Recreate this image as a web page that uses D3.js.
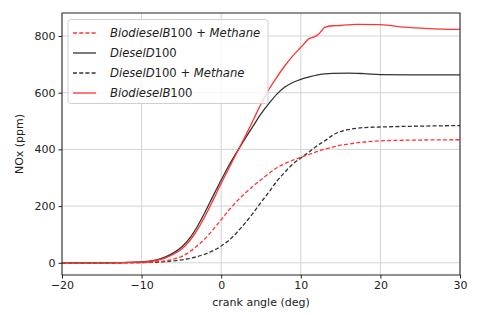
<!DOCTYPE html>
<html>
<head>
<meta charset="utf-8">
<script src="https://cdn.jsdelivr.net/npm/d3@7"></script>
<style>
  body { margin: 0; background: #fff; }
  svg { font-family: "DejaVu Sans", sans-serif; }
</style>
</head>
<body>
<svg width="480" height="315"></svg>
<script>
const svg = d3.select("svg");

// crank angle (deg) and NOx (ppm)
const dieselX = [-20, -15, -10, -8, -7, -6, -5, -4, -3, -2, -1, 0, 1, 2, 3, 4, 5, 6, 7, 8, 9, 10, 11, 12, 13, 14, 16, 18, 20, 25, 30];
const dieselY = [0, 0, 3, 11, 21, 35, 55, 85, 128, 180, 237, 292, 345, 392, 438, 482, 525, 562, 595, 620, 636, 647, 655, 662, 666, 668, 669, 667, 664, 663, 663];

const bioX = [-20, -15, -10, -8, -7, -6, -5, -4, -3, -2, -1, 0, 1, 2, 3, 4, 5, 6, 7, 8, 9, 10, 10.5, 11, 11.7, 12.3, 13, 14, 15, 17, 20, 23, 26, 30];
const bioY = [0, 0, 2, 9, 17, 30, 48, 76, 116, 166, 222, 280, 335, 390, 445, 502, 560, 612, 655, 695, 730, 760, 775, 790, 797, 808, 830, 836, 837, 841, 840, 831, 826, 823];

const bioMethX = [-20, -15, -10, -8, -7, -6, -5, -4, -3, -2, -1, 0, 1, 2, 3, 4, 5, 6, 7, 8, 9, 10, 11, 12, 13, 14, 15, 16, 18, 20, 25, 30];
const bioMethY = [0, 0, 1, 4, 7, 13, 22, 38, 60, 86, 118, 152, 187, 218, 245, 270, 293, 315, 335, 350, 362, 372, 382, 392, 401, 408, 415, 419, 426, 430, 433, 434];

const dieselMethX = [-20, -15, -10, -8, -7, -6, -5, -4, -3, -2, -1, 0, 1, 2, 3, 4, 5, 6, 7, 8, 9, 10, 11, 12, 13, 14, 15, 16, 18, 20, 25, 30];
const dieselMethY = [0, 0, 1, 2, 4, 7, 10, 15, 22, 31, 43, 59, 80, 108, 140, 175, 213, 250, 288, 320, 348, 370, 390, 412, 430, 450, 463, 470, 477, 479, 482, 484];

const xTicks = [-20, -10, 0, 10, 20, 30];
const yTicks = [0, 200, 400, 600, 800];

// legend order as in the picture
const series = [
  { name: ["BiodieselB", "100", " + ", "Methane"], x: bioMethX, y: bioMethY, color: "#ff3333", dash: "4,2.2" },
  { name: ["DieselD", "100"], x: dieselX, y: dieselY, color: "#333333", dash: null },
  { name: ["DieselD", "100", " + ", "Methane"], x: dieselMethX, y: dieselMethY, color: "#333333", dash: "4,2.2" },
  { name: ["BiodieselB", "100"], x: bioX, y: bioY, color: "#ff3333", dash: null }
];

const mLeft = 62, mRight = 460, mTop = 13, mBottom = 275;

const x = d3.scaleLinear().domain([-20, 30]).range([mLeft, mRight]);
const y = d3.scaleLinear().domain([-43, 881]).range([mBottom, mTop]);

// grid
svg.append("g")
  .selectAll("line")
  .data(xTicks)
  .join("line")
  .attr("x1", d => x(d)).attr("x2", d => x(d))
  .attr("y1", mTop).attr("y2", mBottom)
  .attr("stroke", "#d3d3d3").attr("stroke-width", 1);

svg.append("g")
  .selectAll("line")
  .data(yTicks)
  .join("line")
  .attr("x1", mLeft).attr("x2", mRight)
  .attr("y1", d => y(d)).attr("y2", d => y(d))
  .attr("stroke", "#d3d3d3").attr("stroke-width", 1);

// lines
const line = d3.line().x(d => x(d[0])).y(d => y(d[1])).curve(d3.curveMonotoneX);

svg.append("defs").append("clipPath").attr("id", "clip")
  .append("rect").attr("x", mLeft).attr("y", mTop).attr("width", mRight - mLeft).attr("height", mBottom - mTop);

const plot = svg.append("g").attr("clip-path", "url(#clip)");
// draw order: solid first, dashed over
[series[1], series[3], series[2], series[0]].forEach(s => {
  plot.append("path")
    .datum(s.x.map((v, i) => [v, s.y[i]]))
    .attr("d", line)
    .attr("fill", "none")
    .attr("stroke", s.color)
    .attr("stroke-width", 1.3)
    .attr("stroke-dasharray", s.dash);
});

// axes
const xAxis = svg.append("g")
  .attr("transform", `translate(0,${mBottom})`)
  .call(d3.axisBottom(x).tickValues(xTicks).tickSize(3.5).tickPadding(3)
    .tickFormat(d => d < 0 ? "\u2212" + Math.abs(d) : d));
const yAxis = svg.append("g")
  .attr("transform", `translate(${mLeft},0)`)
  .call(d3.axisLeft(y).tickValues(yTicks).tickSize(3.5).tickPadding(3));

[xAxis, yAxis].forEach(a => {
  a.select(".domain").remove();
  a.selectAll("text").attr("font-size", 11).attr("fill", "#222").attr("font-family", "DejaVu Sans");
  a.selectAll("line").attr("stroke", "#222");
});

svg.append("rect")
  .attr("x", mLeft).attr("y", mTop)
  .attr("width", mRight - mLeft).attr("height", mBottom - mTop)
  .attr("fill", "none").attr("stroke", "#222").attr("stroke-width", 1);

// axis labels
svg.append("text")
  .attr("x", (mLeft + mRight) / 2).attr("y", 306)
  .attr("text-anchor", "middle").attr("font-size", 11).attr("fill", "#222")
  .text("crank angle (deg)");

svg.append("text")
  .attr("transform", `translate(23,${(mTop + mBottom) / 2}) rotate(-90)`)
  .attr("text-anchor", "middle").attr("font-size", 11).attr("fill", "#222")
  .text("NOx (ppm)");

// legend
const legend = svg.append("g");
legend.append("rect")
  .attr("x", 68).attr("y", 19.5).attr("width", 200).attr("height", 84).attr("rx", 2.5)
  .attr("fill", "#fff").attr("fill-opacity", 0.8)
  .attr("stroke", "#d0d0d0").attr("stroke-width", 1);

series.forEach((s, i) => {
  const ly = 33 + i * 20;
  legend.append("line")
    .attr("x1", 73).attr("x2", 96).attr("y1", ly).attr("y2", ly)
    .attr("stroke", s.color).attr("stroke-width", 1.3)
    .attr("stroke-dasharray", s.dash);
  const t = legend.append("text")
    .attr("x", 110).attr("y", ly + 4)
    .attr("font-size", 11.6).attr("fill", "#222");
  s.name.forEach((part, j) => {
    t.append("tspan")
      .attr("font-style", j === 1 || j === 2 ? "normal" : "italic")
      .attr("xml:space", "preserve")
      .text(part);
  });
});
</script>
</body>
</html>
